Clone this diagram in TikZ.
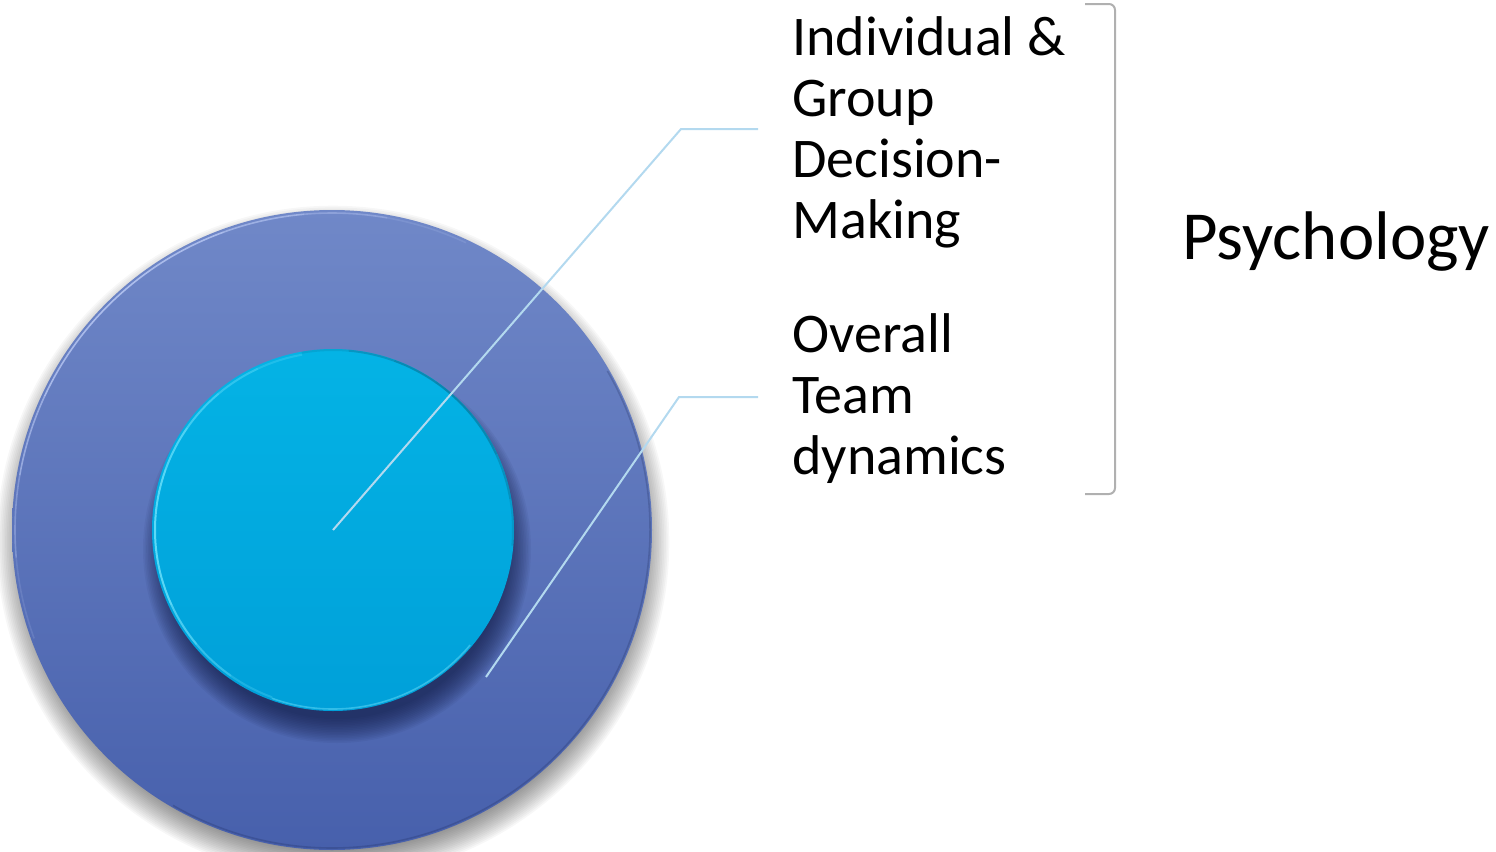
\documentclass[tikz,border=0pt]{standalone}
\usepackage{fontspec}
\setmainfont{Carlito}
\definecolor{outerTop}{HTML}{7088C8}
\definecolor{outerBot}{HTML}{4760AC}
\definecolor{innerTop}{HTML}{04B3E5}
\definecolor{innerBot}{HTML}{00A0D9}
\definecolor{innerHi}{HTML}{6FE2FB}
\definecolor{innerEdge}{HTML}{0A6A8C}
\definecolor{outerHi}{HTML}{C4D2FA}
\definecolor{navyShade}{HTML}{101A44}
\definecolor{leaderblue}{HTML}{B3D9EF}
\definecolor{bracketgray}{HTML}{B0B0B0}
\begin{document}
\begin{tikzpicture}[x=0.5pt,y=-0.5pt,
  disc/.style={circle, inner sep=0pt, draw=none},
  leader/.style={draw=leaderblue, line width=1pt},
  itemtext/.style={anchor=base west, inner sep=0pt, font=\fontsize{28}{34}\selectfont},
  headtext/.style={anchor=base west, inner sep=0pt, font=\fontsize{34.4}{41}\selectfont},
  bracket/.style={draw=bracketgray, line width=1pt, rounded corners=3pt}
]
\useasboundingbox (0,0) rectangle (1496,852);

% soft shadow under the outer disc
\foreach \i in {0,...,19}
  \fill[black, opacity=0.03] (333,542) circle[radius=304+\i*1.7];

% outer disc
\node[disc, minimum size=320pt, top color=outerTop, bottom color=outerBot] (outer) at (332,530) {};
% light rim along the upper-left edge
\foreach \a/\o in {160/0.15,175/0.35,190/0.55,205/0.7,220/0.75,235/0.7,250/0.55,265/0.35,280/0.15}
  \draw[outerHi, opacity=\o, line width=0.8pt]
    ([shift={(\a:317)}]outer.center) arc[start angle=\a, end angle=\a+15, radius=317];
% darker rim along the lower-right edge
\draw[navyShade, opacity=0.2, line width=0.8pt]
    ([shift={(-30:318)}]outer.center) arc[start angle=-30, end angle=120, radius=318];

% dark shadow cast by the inner disc
\foreach \i in {0,...,15}
  \fill[navyShade, opacity=0.06] (337,549) circle[radius=170+\i*1.6];

% inner disc
\node[disc, minimum size=181pt, top color=innerTop, bottom color=innerBot] (inner) at (333,530) {};
% bright rim on the left, dark edge on the upper right
\foreach \a/\o in {110/0.25,125/0.45,140/0.65,155/0.8,170/0.85,185/0.8,200/0.7,215/0.55,230/0.4,245/0.25}
  \draw[innerHi, opacity=\o, line width=1pt]
    ([shift={(\a:178)}]inner.center) arc[start angle=\a, end angle=\a+15, radius=178];
\foreach \a/\o in {260/0.2,275/0.4,290/0.55,305/0.6,320/0.55,335/0.4,350/0.25}
  \draw[innerEdge, opacity=\o, line width=1pt]
    ([shift={(\a:180)}]inner.center) arc[start angle=\a, end angle=\a+15, radius=180];
\draw[innerHi, opacity=0.45, line width=0.8pt]
    ([shift={(40:179)}]inner.center) arc[start angle=40, end angle=110, radius=179];

% labels
\node[itemtext] (t1) at (792,55)  {Individual \&};
\node[itemtext] (t2) at (792,116) {Group};
\node[itemtext] (t3) at (792,177) {Decision-};
\node[itemtext] (t4) at (792,238) {Making};
\node[itemtext] (u1) at (792,352) {Overall};
\node[itemtext] (u2) at (792,413) {Team};
\node[itemtext] (u3) at (792,474) {dynamics};
\node[headtext] (psy) at (1182,259) {Psychology};

% leader lines
\coordinate (k1) at (681,129);
\coordinate (e1) at (758,129);
\coordinate (s2) at (486,677);
\coordinate (k2) at (679,397);
\coordinate (e2) at (758,397);
\draw[leader] (inner.center) -- (k1) -- (e1);
\draw[leader] (s2) -- (k2) -- (e2);

% bracket grouping both items
\coordinate (b1) at (1085,4);
\coordinate (b2) at (1115,4);
\coordinate (b3) at (1115,494);
\coordinate (b4) at (1085,494);
\draw[bracket] (b1) -- (b2) -- (b3) -- (b4);
\end{tikzpicture}
\end{document}
